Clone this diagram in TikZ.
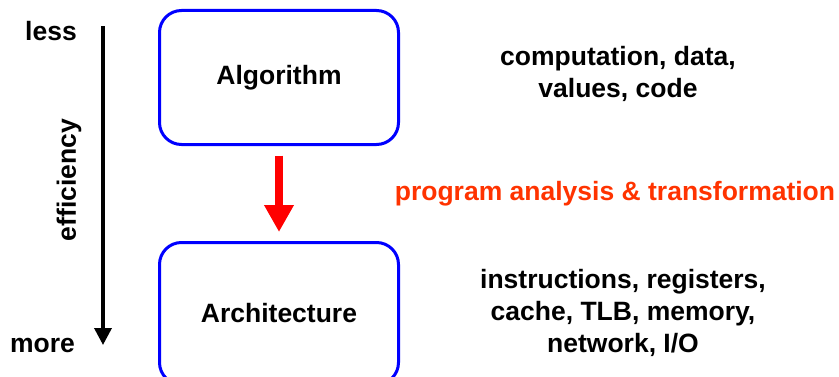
\documentclass[tikz,border=0pt]{standalone}
\usepackage{fontspec}
\setmainfont{Liberation Sans}
\usepackage{tikz}
\usetikzlibrary{arrows.meta}
\definecolor{orangered}{RGB}{255,51,0}

\begin{document}
\begin{tikzpicture}[x=1pt,y=1pt,>=Triangle,
	font=\fontsize{26.5}{32}\selectfont\bfseries,
	box/.style={draw=blue, line width=3pt, rounded corners=22pt, minimum width=239pt, minimum height=134pt, inner sep=0pt},
	txt/.style={align=center, inner sep=0pt}]
	\useasboundingbox (0,0) rectangle (839,376);
%	\draw [help lines] (0,0) grid (839,376);
	\node [box] (alg) at (279,298.5) {Algorithm};
	\node [box, minimum height=142pt] (arch) at (279,62.5) {Architecture};
	\draw [->, red, line width=8.5pt, shorten <=9.5pt, shorten >=9pt, -{Triangle[length=27pt,width=28pt]}] (alg) -- (arch);
	% efficiency axis
	\coordinate (top) at (103,350);
	\coordinate (bot) at (103,31);
	\draw [line width=3.5pt, -{Triangle[length=17pt,width=17pt]}] (top) -- (bot);
	\node [anchor=base, inner sep=0pt] (less) at (51,335) {less};
	\node [anchor=base, inner sep=0pt] (more) at (42.5,24) {more};
	\node [rotate=90, inner sep=0pt] (eff) at (69,196) {efficiency};
	% descriptions
	\node [txt] (algtxt) at (618,302) {computation, data,\\values, code};
	\node [txt, text=orangered] (pat) at (615,182.6) {program analysis \& transformation};
	\node [txt] (archtxt) at (623,63) {instructions, registers,\\cache, TLB, memory,\\network, I/O};
\end{tikzpicture}
\end{document}
